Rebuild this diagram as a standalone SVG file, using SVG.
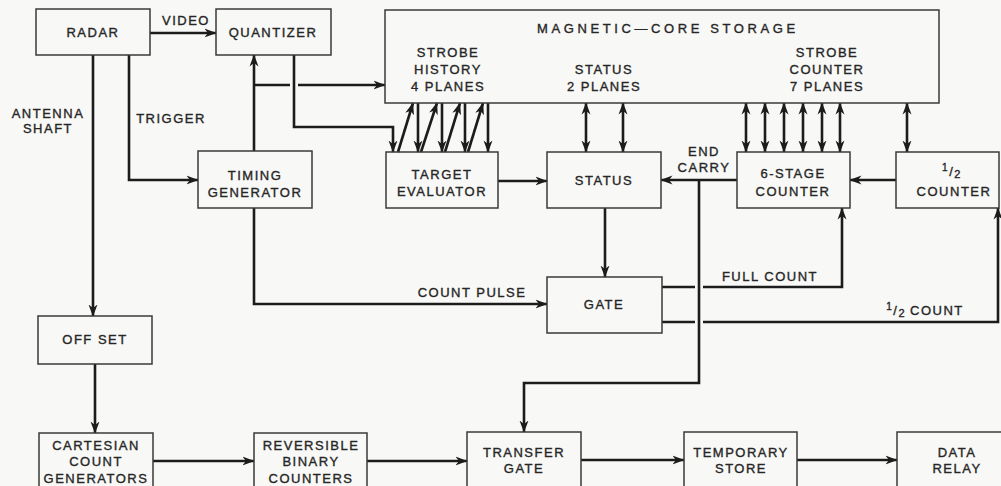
<svg xmlns="http://www.w3.org/2000/svg" width="1001" height="486" viewBox="0 0 1001 486">
<style>
.bg{fill:#f8f8f6}
.box{fill:none;stroke:#3a3a3a;stroke-width:1.5}
.ln{fill:none;stroke:#1c1c1c;stroke-width:2.6}
.ar{marker-end:url(#ah)}
.dbl{marker-end:url(#ah);marker-start:url(#ah)}
text{font-family:"Liberation Sans",Arial,sans-serif;font-size:13px;fill:#262626;stroke:#262626;stroke-width:0.35;letter-spacing:1.5px;text-anchor:middle}
.title{letter-spacing:3.6px;text-anchor:start}
</style>
<defs>
<marker id="ah" viewBox="0 0 12 10" refX="11.5" refY="5" markerWidth="12" markerHeight="10" markerUnits="userSpaceOnUse" orient="auto-start-reverse">
<path d="M0,0.5 L12,5 L0,9.5 L3.5,5 z" fill="#1c1c1c"/>
</marker>
</defs>
<rect class="bg" x="0" y="0" width="1001" height="486"/>

<g id="connectors">
<path class="ln ar" d="M150,33 H216"/>
<path class="ln ar" d="M93,55 V316"/>
<path class="ln ar" d="M129,55 V180 H198"/>
<path class="ln ar" d="M254,151 V55"/>
<path class="ln" d="M254,85 H290"/>
<path class="ln ar" d="M298,85 H385"/>
<path class="ln ar" d="M294,55 V127 H393 V152"/>
<path class="ln ar" d="M398,152 L413,103"/>
<path class="ln ar" d="M421,152 L437,103"/>
<path class="ln ar" d="M445,152 L460,103"/>
<path class="ln ar" d="M468,152 L483,103"/>
<path class="ln ar" d="M418,103 V152"/>
<path class="ln ar" d="M442,103 V152"/>
<path class="ln ar" d="M465,103 V152"/>
<path class="ln ar" d="M488,103 V152"/>
<path class="ln dbl" d="M586,103 V152"/>
<path class="ln dbl" d="M623,103 V152"/>
<path class="ln dbl" d="M746,103 V152"/>
<path class="ln dbl" d="M765,103 V152"/>
<path class="ln dbl" d="M784,103 V152"/>
<path class="ln dbl" d="M803,103 V152"/>
<path class="ln dbl" d="M822,103 V152"/>
<path class="ln dbl" d="M840,103 V152"/>
<path class="ln dbl" d="M907,103 V152"/>
<path class="ln ar" d="M498,181 H547"/>
<path class="ln ar" d="M737,180 H661"/>
<path class="ln ar" d="M699,180 V383 H524 V432"/>
<path class="ln ar" d="M896,180 H850"/>
<path class="ln ar" d="M605,208 V277"/>
<path class="ln ar" d="M254,208 V304 H547"/>
<path class="ln" d="M662,287 H695"/>
<path class="ln ar" d="M703,287 H842 V208"/>
<path class="ln" d="M662,322 H695"/>
<path class="ln ar" d="M703,322 H998 V208"/>
<path class="ln ar" d="M95,364 V433"/>
<path class="ln ar" d="M153,461 H254"/>
<path class="ln ar" d="M367,461 H467"/>
<path class="ln ar" d="M581,460 H684"/>
<path class="ln ar" d="M797,460 H897"/>
<text x="186" y="25">VIDEO</text>
<text x="48" y="118">ANTENNA</text>
<text x="48" y="133">SHAFT</text>
<text x="171" y="123">TRIGGER</text>
<text x="472" y="297">COUNT PULSE</text>
<text x="704" y="156">END</text>
<text x="704" y="172">CARRY</text>
<text x="770" y="281">FULL COUNT</text>
<text x="925" y="315"><tspan font-size="10" dy="-5">1</tspan><tspan dy="5">/</tspan><tspan font-size="11" dy="2">2</tspan><tspan dy="-2" dx="4">COUNT</tspan></text>
</g>

<g id="radar"><rect class="box" x="36" y="9" width="114" height="46"/><text x="93" y="37">RADAR</text></g>
<g id="quantizer"><rect class="box" x="216" y="9" width="115" height="46"/><text x="273" y="37">QUANTIZER</text></g>
<g id="storage"><rect class="box" x="385" y="10" width="554" height="93"/>
<text class="title" x="537" y="33">MAGNETIC—CORE STORAGE</text>
<text x="448" y="57">STROBE</text><text x="448" y="74">HISTORY</text><text x="448" y="91">4 PLANES</text>
<text x="604" y="74">STATUS</text><text x="604" y="91">2 PLANES</text>
<text x="827" y="57">STROBE</text><text x="827" y="74">COUNTER</text><text x="827" y="91">7 PLANES</text>
</g>
<g id="timing"><rect class="box" x="198" y="151" width="114" height="57"/><text x="255" y="180">TIMING</text><text x="255" y="197">GENERATOR</text></g>
<g id="target"><rect class="box" x="386" y="152" width="112" height="56"/><text x="442" y="179">TARGET</text><text x="442" y="196">EVALUATOR</text></g>
<g id="status"><rect class="box" x="547" y="152" width="114" height="56"/><text x="604" y="185">STATUS</text></g>
<g id="counter6"><rect class="box" x="737" y="152" width="113" height="56"/><text x="793" y="178">6-STAGE</text><text x="793" y="196">COUNTER</text></g>
<g id="halfcounter"><rect class="box" x="896" y="152" width="103" height="56"/><text x="952" y="176"><tspan font-size="10" dy="-5">1</tspan><tspan dy="5">/</tspan><tspan font-size="11" dy="2">2</tspan></text><text x="954" y="196">COUNTER</text></g>
<g id="gate"><rect class="box" x="547" y="277" width="115" height="56"/><text x="604" y="309">GATE</text></g>
<g id="offset"><rect class="box" x="38" y="316" width="114" height="48"/><text x="95" y="344">OFF SET</text></g>
<g id="cartesian"><rect class="box" x="39" y="433" width="114" height="62"/><text x="96" y="450">CARTESIAN</text><text x="96" y="466">COUNT</text><text x="96" y="483">GENERATORS</text></g>
<g id="reversible"><rect class="box" x="254" y="433" width="113" height="62"/><text x="311" y="450">REVERSIBLE</text><text x="311" y="466">BINARY</text><text x="311" y="483">COUNTERS</text></g>
<g id="transfer"><rect class="box" x="467" y="432" width="114" height="62"/><text x="524" y="457">TRANSFER</text><text x="524" y="473">GATE</text></g>
<g id="temporary"><rect class="box" x="684" y="432" width="113" height="62"/><text x="741" y="457">TEMPORARY</text><text x="741" y="473">STORE</text></g>
<g id="datarelay"><rect class="box" x="897" y="432" width="115" height="62"/><text x="957" y="457">DATA</text><text x="957" y="473">RELAY</text></g>
</svg>
